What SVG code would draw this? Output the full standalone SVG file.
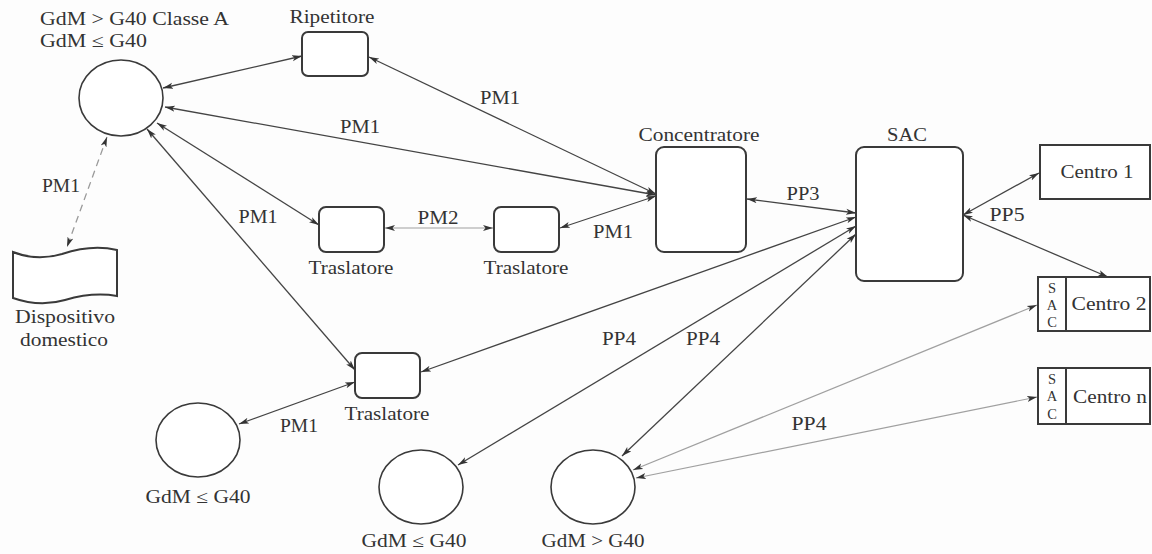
<svg xmlns="http://www.w3.org/2000/svg" width="1152" height="554" viewBox="0 0 1152 554">
<style>
.bg{fill:#fdfdfd}
.box{fill:#fff;stroke:#3a3a3a;stroke-width:2}
.circ{fill:#fff;stroke:#3a3a3a;stroke-width:1.6}
.t{font-family:"Liberation Serif","Times New Roman",serif;font-size:18px;fill:#333;text-anchor:middle}
.ts{font-family:"Liberation Serif","Times New Roman",serif;font-size:14.5px;fill:#333;text-anchor:middle}
.ln{stroke:#444;stroke-width:1.3;fill:none;marker-start:url(#ah);marker-end:url(#ah)}
.lt{stroke:#a0a0a0;stroke-width:1.2;fill:none;marker-start:url(#ah);marker-end:url(#ah)}
.ld{stroke:#9a9a9a;stroke-width:1.3;fill:none;stroke-dasharray:7 5;marker-start:url(#ah);marker-end:url(#ah)}
</style>
<defs>
<marker id="ah" markerUnits="userSpaceOnUse" markerWidth="11" markerHeight="7" refX="10" refY="3.5" orient="auto-start-reverse" viewBox="0 0 11 7">
<path d="M0,0.5 L10,3.5 L0,6.5 L2.5,3.5 Z" fill="#333"/>
</marker>
</defs>
<rect class="bg" x="0" y="0" width="1152" height="554"/>

<g id="connectors">
<line class="ln" x1="163" y1="88" x2="302" y2="56"/>
<line class="ln" x1="369" y1="57" x2="656" y2="194"/>
<line class="ln" x1="165" y1="107" x2="656" y2="195"/>
<line class="ln" x1="157" y1="123" x2="319" y2="225"/>
<line class="ln" x1="147" y1="129" x2="355" y2="370"/>
<line class="ld" x1="107" y1="137" x2="67" y2="247"/>
<line class="lt" x1="385" y1="228" x2="493" y2="228"/>
<line class="ln" x1="560" y1="228" x2="656" y2="196"/>
<line class="ln" x1="747" y1="199" x2="856" y2="213"/>
<line class="ln" x1="421" y1="372" x2="856" y2="217"/>
<line class="ln" x1="458" y1="465" x2="856" y2="226"/>
<line class="ln" x1="622" y1="456" x2="856" y2="234"/>
<line class="ln" x1="963" y1="215" x2="1039" y2="173"/>
<line class="ln" x1="963" y1="215" x2="1108" y2="277"/>
<line class="lt" x1="633" y1="470" x2="1037" y2="305"/>
<line class="lt" x1="636" y1="478" x2="1037" y2="397"/>
<line class="ln" x1="355" y1="382" x2="239" y2="424"/>
</g>

<g id="connector-labels">
<text class="t" x="360" y="133" textLength="40" lengthAdjust="spacingAndGlyphs">PM1</text>
<text class="t" x="500" y="104" textLength="40" lengthAdjust="spacingAndGlyphs">PM1</text>
<text class="t" x="61" y="192" textLength="38" lengthAdjust="spacingAndGlyphs">PM1</text>
<text class="t" x="258" y="223" textLength="39" lengthAdjust="spacingAndGlyphs">PM1</text>
<text class="t" x="438" y="224" textLength="41" lengthAdjust="spacingAndGlyphs">PM2</text>
<text class="t" x="613" y="238" textLength="40" lengthAdjust="spacingAndGlyphs">PM1</text>
<text class="t" x="803" y="200" textLength="33" lengthAdjust="spacingAndGlyphs">PP3</text>
<text class="t" x="1007" y="221" textLength="35" lengthAdjust="spacingAndGlyphs">PP5</text>
<text class="t" x="619" y="345" textLength="34" lengthAdjust="spacingAndGlyphs">PP4</text>
<text class="t" x="703" y="345" textLength="34" lengthAdjust="spacingAndGlyphs">PP4</text>
<text class="t" x="809" y="430" textLength="35" lengthAdjust="spacingAndGlyphs">PP4</text>
<text class="t" x="299" y="432" textLength="38" lengthAdjust="spacingAndGlyphs">PM1</text>
</g>

<g id="gdm-top">
<ellipse class="circ" cx="121" cy="98" rx="42" ry="38"/>
<text class="t" x="134.5" y="25" textLength="189" lengthAdjust="spacingAndGlyphs">GdM &gt; G40 Classe A</text>
<text class="t" x="93.5" y="47" textLength="107" lengthAdjust="spacingAndGlyphs">GdM ≤ G40</text>
</g>

<g id="ripetitore">
<rect class="box" x="302" y="32" width="66" height="44" rx="6"/>
<text class="t" x="332" y="23" textLength="85" lengthAdjust="spacingAndGlyphs">Ripetitore</text>
</g>

<g id="dispositivo">
<path class="box" d="M13,252 C28,258 45,259 62,254 C80,248 100,246 117,250 L117,296 C100,293 82,295 65,300 C48,305 30,304 13,298 Z"/>
<text class="t" x="65" y="323" textLength="100" lengthAdjust="spacingAndGlyphs">Dispositivo</text>
<text class="t" x="64" y="346" textLength="88" lengthAdjust="spacingAndGlyphs">domestico</text>
</g>

<g id="traslatore1">
<rect class="box" x="319" y="207" width="65" height="45" rx="7"/>
<text class="t" x="351" y="274" textLength="85" lengthAdjust="spacingAndGlyphs">Traslatore</text>
</g>

<g id="traslatore2">
<rect class="box" x="494" y="207" width="65" height="45" rx="7"/>
<text class="t" x="526" y="274" textLength="85" lengthAdjust="spacingAndGlyphs">Traslatore</text>
</g>

<g id="traslatore3">
<rect class="box" x="355" y="353" width="65" height="45" rx="7"/>
<text class="t" x="387" y="420" textLength="85" lengthAdjust="spacingAndGlyphs">Traslatore</text>
</g>

<g id="concentratore">
<rect class="box" x="656" y="147" width="90" height="105" rx="8"/>
<text class="t" x="699" y="141" textLength="121" lengthAdjust="spacingAndGlyphs">Concentratore</text>
</g>

<g id="sac">
<rect class="box" x="856" y="147" width="107" height="134" rx="8"/>
<text class="t" x="907" y="141" textLength="40" lengthAdjust="spacingAndGlyphs">SAC</text>
</g>

<g id="centro1">
<rect class="box" x="1040" y="145" width="110" height="54"/>
<text class="t" x="1097" y="178" textLength="73" lengthAdjust="spacingAndGlyphs">Centro 1</text>
</g>

<g id="centro2">
<rect class="box" x="1038" y="277" width="112" height="54"/>
<line x1="1066" y1="277" x2="1066" y2="331" stroke="#3a3a3a" stroke-width="2"/>
<text class="ts" x="1052" y="293">S</text>
<text class="ts" x="1052" y="310">A</text>
<text class="ts" x="1052" y="327">C</text>
<text class="t" x="1109" y="310" textLength="75" lengthAdjust="spacingAndGlyphs">Centro 2</text>
</g>

<g id="centron">
<rect class="box" x="1038" y="368" width="112" height="56"/>
<line x1="1066" y1="368" x2="1066" y2="424" stroke="#3a3a3a" stroke-width="2"/>
<text class="ts" x="1052" y="384">S</text>
<text class="ts" x="1052" y="401">A</text>
<text class="ts" x="1052" y="419">C</text>
<text class="t" x="1110" y="403" textLength="74" lengthAdjust="spacingAndGlyphs">Centro n</text>
</g>

<g id="gdm-bl">
<ellipse class="circ" cx="198" cy="440" rx="42" ry="37"/>
<text class="t" x="198" y="503" textLength="105" lengthAdjust="spacingAndGlyphs">GdM ≤ G40</text>
</g>

<g id="gdm-b2">
<ellipse class="circ" cx="421" cy="487" rx="42" ry="37"/>
<text class="t" x="414" y="547" textLength="105" lengthAdjust="spacingAndGlyphs">GdM ≤ G40</text>
</g>

<g id="gdm-b3">
<ellipse class="circ" cx="593" cy="487" rx="42" ry="37"/>
<text class="t" x="593" y="547" textLength="103" lengthAdjust="spacingAndGlyphs">GdM &gt; G40</text>
</g>
</svg>
